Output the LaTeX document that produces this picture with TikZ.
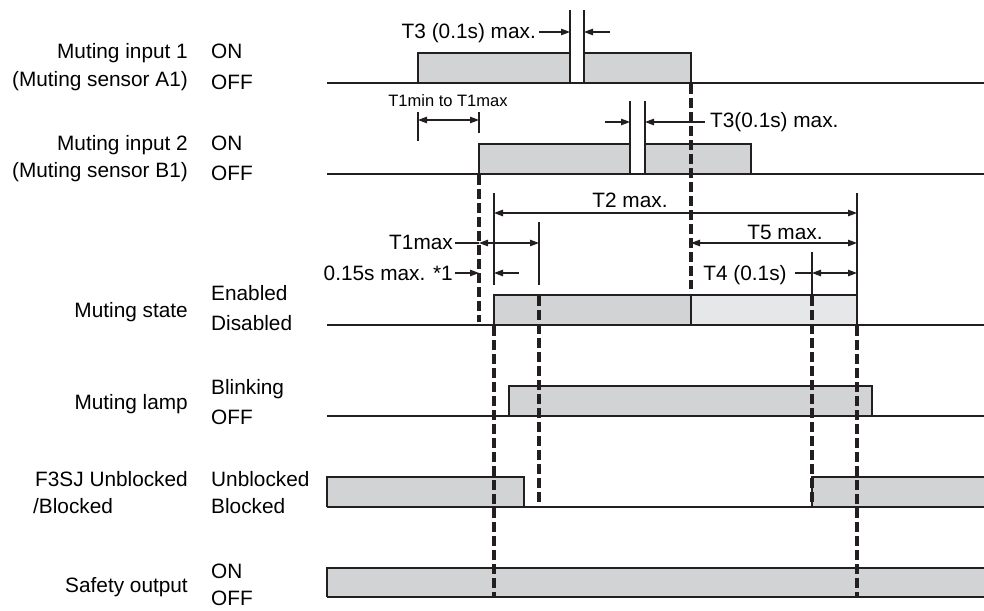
\documentclass[tikz,border=0pt]{standalone}
\usepackage{fontspec}
\setmainfont{Liberation Sans}
\usetikzlibrary{arrows.meta}
\definecolor{sig}{HTML}{D1D3D4}
\definecolor{sigl}{HTML}{E6E7E8}
\definecolor{ink}{HTML}{231F20}
\begin{document}
\begin{tikzpicture}[x=1pt,y=-1pt,
  font=\fontsize{20.8}{24}\selectfont,
  lbl/.style={anchor=base east, inner sep=0},
  st/.style={anchor=base west, inner sep=0},
  dimtxt/.style={inner sep=0},
  edge/.style={draw=ink, line width=1.1pt},
  baseln/.style={draw=ink, line width=2.2pt},
  dsh/.style={draw=ink, line width=3.3pt, dash pattern=on 10pt off 4pt},
  tick/.style={draw=ink, line width=1.1pt},
  arr/.style={draw=ink, line width=1.1pt, -{Triangle[length=9pt,width=6.5pt]}},
  darr/.style={draw=ink, line width=1.1pt, {Triangle[length=9pt,width=6.5pt]}-{Triangle[length=9pt,width=6.5pt]}},
]
\useasboundingbox (0,0) rectangle (984,610);

% ---------- left labels ----------
\node[lbl] (l1a) at (188,59) {Muting input 1};
\node[lbl] (l1b) at (188,86) {(Muting sensor A1)};
\node[st]  (s1a) at (211,59) {ON};
\node[st]  (s1b) at (211,89) {OFF};
\node[lbl] (l2a) at (188,150) {Muting input 2};
\node[lbl] (l2b) at (188,177) {(Muting sensor B1)};
\node[st]  (s2a) at (211,150) {ON};
\node[st]  (s2b) at (211,180) {OFF};
\node[lbl] (l3) at (188,317) {Muting state};
\node[st]  (s3a) at (211,300) {Enabled};
\node[st]  (s3b) at (211,330) {Disabled};
\node[lbl] (l4) at (188,409) {Muting lamp};
\node[st]  (s4a) at (211,394) {Blinking};
\node[st]  (s4b) at (211,424) {OFF};
\node[lbl] (l5a) at (188,486) {F3SJ Unblocked};
\node[anchor=base west, inner sep=0] (l5b) at (33,513) {/Blocked};
\node[st]  (s5a) at (211,486) {Unblocked};
\node[st]  (s5b) at (211,513) {Blocked};
\node[lbl] (l6) at (188,592) {Safety output};
\node[st]  (s6a) at (211,578) {ON};
\node[st]  (s6b) at (211,605) {OFF};

% ---------- row 1 : muting input 1 ----------
\fill[sig] (418,53) rectangle (570,83);
\fill[sig] (584,53) rectangle (691,83);
\draw[edge] (418,83) |- (570,53) -- (570,83);
\draw[edge] (584,83) |- (691,53) -- (691,83);
\draw[baseln] (327,83) -- (984,83);

% ---------- row 2 : muting input 2 ----------
\fill[sig] (479,144) rectangle (630,174);
\fill[sig] (645,144) rectangle (751,174);
\draw[edge] (479,174) |- (630,144) -- (630,174);
\draw[edge] (645,174) |- (751,144) -- (751,174);
\draw[baseln] (327,174) -- (984,174);

% ---------- row 3 : muting state ----------
\fill[sig] (494,295) rectangle (691,325);
\fill[sigl] (691,295) rectangle (857,325);
\draw[edge] (494,325) |- (857,295) -- (857,325);
\draw[edge] (691,295) -- (691,325);
\draw[baseln] (327,325) -- (984,325);

% ---------- row 4 : muting lamp ----------
\fill[sig] (509,386) rectangle (872,416);
\draw[edge] (509,416) |- (872,386) -- (872,416);
\draw[baseln] (327,416) -- (984,416);

% ---------- row 5 : F3SJ ----------
\fill[sig] (327,477) rectangle (524,507);
\fill[sig] (812,477) rectangle (984,507);
\draw[edge] (327,507) |- (524,477) -- (524,507);
\draw[edge] (812,507) |- (984,477);
\draw[baseln] (327,507) -- (984,507);

% ---------- row 6 : safety output ----------
\fill[sig] (327,568) rectangle (984,597);
\draw[edge] (327,597) |- (984,568);
\draw[baseln] (327,597) -- (984,597);

% ---------- extension ticks ----------
\draw[tick] (570,10) -- (570,53);
\draw[tick] (584,10) -- (584,53);
\draw[tick] (418,112) -- (418,141);
\draw[tick] (479,112) -- (479,133);
\draw[tick] (630,101) -- (630,144);
\draw[tick] (645,101) -- (645,144);
\draw[tick] (494,193) -- (494,285);
\draw[tick] (539,222) -- (539,285);
\draw[tick] (857,193) -- (857,295);
\draw[tick] (812,252) -- (812,295);

% ---------- dashed time markers ----------
\coordinate (d1a) at (691,84);  \coordinate (d1b) at (691,289);
\coordinate (d2a) at (479,175); \coordinate (d2b) at (479,322);
\coordinate (d3a) at (494,326); \coordinate (d3b) at (494,598);
\coordinate (d4a) at (539,296); \coordinate (d4b) at (539,508);
\coordinate (d5a) at (812,296); \coordinate (d5b) at (812,508);
\coordinate (d6a) at (857,326); \coordinate (d6b) at (857,598);
\draw[dsh] (d1a) -- (d1b);
\draw[dsh] (d2a) -- (d2b);
\draw[dsh] (d3a) -- (d3b);
\draw[dsh] (d4a) -- (d4b);
\draw[dsh] (d5a) -- (d5b);
\draw[dsh] (d6a) -- (d6b);

% ---------- dimension: T3 (row 1) ----------
\node[dimtxt, anchor=base east] (t3top) at (536,38) {T3 (0.1s) max.};
\coordinate (t3l) at (570,32); \coordinate (t3r) at (584,32);
\coordinate (t3re) at (610,32);
\draw[arr] (t3top.east |- t3l) ++(3,0) -- (t3l);
\draw[arr] (t3re) -- (t3r);

% ---------- dimension: T1min to T1max ----------
\node[dimtxt, anchor=base, font=\fontsize{16.5}{20}\selectfont] (t1mm) at (448,106) {T1min to T1max};
\coordinate (t1l) at (418,120); \coordinate (t1r) at (479,120);
\draw[darr] (t1l) -- (t1r);

% ---------- dimension: T3 (row 2) ----------
\node[dimtxt, anchor=base west] (t3b) at (710,127) {T3(0.1s) max.};
\coordinate (t3bl) at (630,122); \coordinate (t3br) at (645,122);
\coordinate (t3bls) at (605,122);
\draw[arr] (t3bls) -- (t3bl);
\draw[arr] (t3b.west |- t3br) ++(-5,0) -- (t3br);

% ---------- dimension: T2 max. ----------
\node[dimtxt, anchor=base] (t2) at (630,207) {T2 max.};
\coordinate (t2l) at (494,213); \coordinate (t2r) at (857,213);
\draw[darr] (t2l) -- (t2r);

% ---------- dimension: T1max ----------
\node[dimtxt, anchor=base east] (t1max) at (453,249) {T1max};
\coordinate (t1ml) at (479,243); \coordinate (t1mr) at (539,243);
\draw[tick] (t1max.east |- t1ml) ++(2,0) -- (t1ml);
\draw[darr] (t1ml) -- (t1mr);

% ---------- dimension: 0.15s max. *1 ----------
\node[dimtxt, anchor=base east] (t015) at (453,280) {0.15s max. *1};
\coordinate (q1) at (479,273); \coordinate (q2) at (494,273); \coordinate (q3) at (519,273);
\draw[arr] (t015.east |- q1) ++(2,0) -- (q1);
\draw[arr] (q3) -- (q2);

% ---------- dimension: T5 max. ----------
\node[dimtxt, anchor=base] (t5) at (785,239) {T5 max.};
\coordinate (t5l) at (691,243); \coordinate (t5r) at (857,243);
\draw[darr] (t5l) -- (t5r);

% ---------- dimension: T4 (0.1s) ----------
\node[dimtxt, anchor=base] (t4) at (745,280) {T4 (0.1s)};
\coordinate (t4l) at (812,273); \coordinate (t4r) at (857,273);
\draw[tick] (t4.east |- t4l) ++(8,0) -- (t4l);
\draw[darr] (t4l) -- (t4r);
\end{tikzpicture}
\end{document}
